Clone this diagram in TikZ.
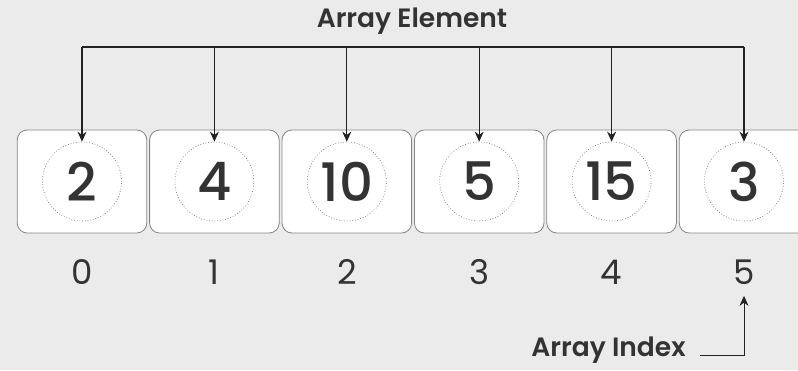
\documentclass[tikz,border=0pt]{standalone}
\usepackage{fontspec}
\setmainfont{Poppins}
\newfontfamily\titlefont{Poppins SemiBold}
\newfontfamily\valfont{Poppins Medium}
\usetikzlibrary{arrows.meta, positioning}

\definecolor{bggray}{HTML}{EBEBEB}
\definecolor{textgray}{HTML}{333333}
\definecolor{edgegray}{HTML}{858585}
\definecolor{linegray}{HTML}{222222}

\begin{document}
\begin{tikzpicture}[
    x=1pt, y=-1pt,
    node distance=2pt,
    cell/.style={
        draw=edgegray,
        fill=white,
        rounded corners=10pt,
        line width=0.8pt,
        minimum width=129.6pt,
        minimum height=103pt
    },
    ring/.style={
        circle,
        draw=black!55,
        dotted,
        line width=0.7pt,
        minimum size=79pt,
        inner sep=0pt,
        text=textgray,
        font=\valfont\fontsize{53}{53}\selectfont
    },
    idx/.style={
        text=textgray,
        font=\fontsize{34}{34}\selectfont
    },
    caption/.style={
        text=textgray,
        font=\titlefont\fontsize{26.5}{26.5}\selectfont
    },
    arrow/.style={
        -{Stealth[length=10pt,width=9pt]},
        line width=1.3pt,
        linegray
    }
]

\fill[bggray] (0,0) rectangle (798,370);
\useasboundingbox (0,0) rectangle (798,370);

\node[cell] (cell0) at (82,181.5) {};
\node[cell, right=of cell0] (cell1) {};
\node[cell, right=of cell1] (cell2) {};
\node[cell, right=of cell2] (cell3) {};
\node[cell, right=of cell3] (cell4) {};
\node[cell, right=of cell4] (cell5) {};

\node[ring] (ring0) at (cell0) {2};
\node[ring] (ring1) at (cell1) {4};
\node[ring] (ring2) at (cell2) {10};
\node[ring] (ring3) at (cell3) {5};
\node[ring] (ring4) at (cell4) {15};
\node[ring] (ring5) at (cell5) {3};

\node[idx] (idx0) at (82,272) {0};
\node[idx] (idx1) at (cell1 |- idx0) {1};
\node[idx] (idx2) at (cell2 |- idx0) {2};
\node[idx] (idx3) at (cell3 |- idx0) {3};
\node[idx] (idx4) at (cell4 |- idx0) {4};
\node[idx] (idx5) at (cell5 |- idx0) {5};

\node[caption] (element) at (412,21) {Array Element};
\node[caption] (index) at (608.5,350) {Array Index};

% element bus
\coordinate (bus) at (0,47);
\draw[line width=1.3pt, linegray] (ring0.north |- bus) -- (ring5.north |- bus);
\draw[arrow] (ring0.north |- bus) -- (ring0.north);
\draw[arrow] (ring1.north |- bus) -- (ring1.north);
\draw[arrow] (ring2.north |- bus) -- (ring2.north);
\draw[arrow] (ring3.north |- bus) -- (ring3.north);
\draw[arrow] (ring4.north |- bus) -- (ring4.north);
\draw[arrow] (ring5.north |- bus) -- (ring5.north);

% index pointer
\draw[arrow, line width=1pt] ([xshift=11pt,yshift=-5pt]index.east) -| ([yshift=-8pt]idx5.south);

\end{tikzpicture}
\end{document}
